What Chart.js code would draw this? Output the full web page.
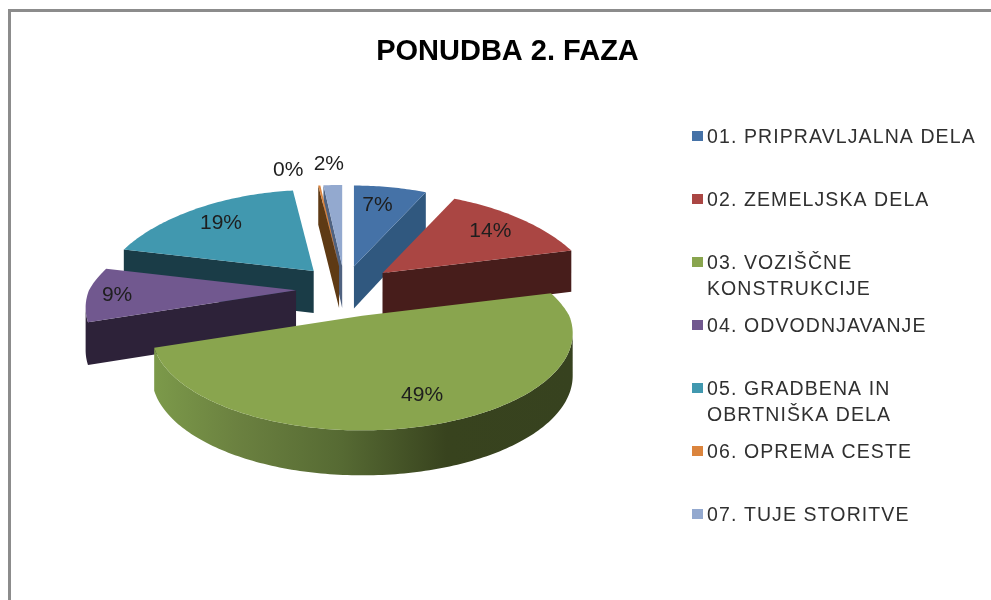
<!DOCTYPE html>
<html>
<head>
<meta charset="utf-8">
<style>
html,body{margin:0;padding:0;background:#fff;width:991px;height:600px;overflow:hidden}
#wrap{position:relative;width:991px;height:600px}
#frame{position:absolute;left:8px;top:9px;right:0;bottom:0;border-left:3px solid #8c8c8c;border-top:3px solid #8c8c8c}
canvas{position:absolute;left:0;top:0}
</style>
</head>
<body>
<div id="wrap"><div id="frame"></div><canvas id="c" width="991" height="600"></canvas></div>
<script src="https://cdn.jsdelivr.net/npm/chart.js@4/dist/chart.umd.js"></script>
<script>
const chartTitle = "PONUDBA 2. FAZA";
const categories = ["01. PRIPRAVLJALNA DELA","02. ZEMELJSKA DELA","03. VOZIŠČNE KONSTRUKCIJE","04. ODVODNJAVANJE","05. GRADBENA IN OBRTNIŠKA DELA","06. OPREMA CESTE","07. TUJE STORITVE"];
const shares = [7.0,14.0,48.8,9.0,19.2,0.2,1.8];
const topColors = ["#4572a7","#aa4643","#89a54e","#71588f","#4198af","#db843d","#93a9cf"];
const wallColors = ["#30587f","#471d1b",null,"#2d2239","#1a3c47","#5e3a14","#4f6280"];
const sliceNudge = [[-2,0],[-1,-3],[3,-5],[1,-5],[2,-2],[0,0],[0,0]];
const labelRadius = [0.75,0.75,0.75,0.85,0.75,1,1];
const labelNudge = [[-5,0],[1,0],[9,2],[-2,2],[-2,0],[-31,-15],[-4,-21]];

const PERSP_X_FAR = 0.25, PERSP_X_NEAR = 0.18, PERSP_Y_FAR = 0.16, PERSP_Y_NEAR = 0.18, SQUASH = 94/207, OFFSET_Y = 0.56, WALL = 42;

function place(arc, angle, r){
  const p = arc.getProps(["x","y","startAngle","endAngle","outerRadius"]);
  const R = p.outerRadius, mid = (p.startAngle + p.endAngle)/2 + Math.PI/2;
  const i = arc.$context ? arc.$context.dataIndex : 0;
  const o = arc.options.offset;
  const ax = p.x + o*Math.sin(mid) + sliceNudge[i][0];
  const ay = p.y - o*OFFSET_Y*Math.cos(mid) + sliceNudge[i][1];
  const th = angle + Math.PI/2;
  const u = r*Math.sin(th), v = -r*Math.cos(th);
  const px = v > 0 ? PERSP_X_NEAR : PERSP_X_FAR;
  const py = v > 0 ? PERSP_Y_NEAR : PERSP_Y_FAR;
  return {
    x: ax + R*u/(1 - px*v),
    y: ay + R*SQUASH*v/(1 - py*v),
    h: WALL + 3*v
  };
}
function outline(arc){
  const p = arc.getProps(["startAngle","endAngle"]);
  const pts = [place(arc, p.startAngle, 0)];
  const n = Math.max(2, Math.ceil((p.endAngle - p.startAngle)/(Math.PI/180)));
  for(let k=0;k<=n;k++) pts.push(place(arc, p.startAngle + (p.endAngle-p.startAngle)*k/n, 1));
  return pts;
}
function fillRun(ctx, run){
  ctx.beginPath();
  run.forEach((q,k)=> k ? ctx.lineTo(q.x,q.y) : ctx.moveTo(q.x,q.y));
  for(let k=run.length-1;k>=0;k--) ctx.lineTo(run[k].x,run[k].y+run[k].h);
  ctx.closePath(); ctx.fill();
}
Chart.ArcElement.prototype.draw = function(ctx){
  const i = this.$context.dataIndex, pts = outline(this);
  ctx.save();
  let wall = wallColors[i];
  if(!wall){
    wall = ctx.createLinearGradient(153,0,572,0);
    wall.addColorStop(0,"#7c9a4a");
    wall.addColorStop(0.2,"#6b8140");
    wall.addColorStop(0.45,"#566a33");
    wall.addColorStop(0.7,"#38431e");
    wall.addColorStop(1,"#37421f");
  }
  ctx.fillStyle = wall;
  let run = [];
  for(let k=0;k<pts.length;k++){
    const a = pts[k], b = pts[(k+1)%pts.length];
    if(b.x - a.x < 0){
      if(!run.length) run.push(a);
      run.push(b);
    } else if(run.length){
      fillRun(ctx,run); run = [];
    }
  }
  if(run.length) fillRun(ctx,run);
  ctx.fillStyle = this.options.backgroundColor;
  ctx.beginPath();
  pts.forEach((q,k)=> k ? ctx.lineTo(q.x,q.y) : ctx.moveTo(q.x,q.y));
  ctx.closePath(); ctx.fill();
  ctx.restore();
};
Chart.PieController.prototype.draw = function(){
  const ctx = this.chart.ctx, area = this.chart.chartArea;
  const depth = a => { const p = a.getProps(["startAngle","endAngle"]); return Math.cos((p.startAngle+p.endAngle)/2 + Math.PI/2); };
  this.getMeta().data.slice().sort((a,b)=>depth(b)-depth(a)).forEach(a=>a.draw(ctx,area));
};

const pieLabels = {
  id:"pieLabels",
  afterDatasetsDraw(chart){
    const ctx = chart.ctx, meta = chart.getDatasetMeta(0), total = shares.reduce((s,x)=>s+x,0);
    ctx.save();
    ctx.font = "21px 'Liberation Sans'"; ctx.fillStyle = "#1e1e1e";
    ctx.textAlign = "center"; ctx.textBaseline = "middle";
    meta.data.forEach((arc,i)=>{
      const p = arc.getProps(["startAngle","endAngle"]);
      const q = place(arc,(p.startAngle+p.endAngle)/2,labelRadius[i]);
      ctx.fillText(Math.round(shares[i]/total*100)+"%", q.x+labelNudge[i][0], q.y+labelNudge[i][1]);
    });
    ctx.restore();
  }
};
const sideLegend = {
  id:"sideLegend",
  afterDraw(chart){
    const ctx = chart.ctx;
    ctx.save();
    ctx.font = "19.5px 'Liberation Sans'"; ctx.letterSpacing = "1.1px";
    ctx.textBaseline = "alphabetic"; ctx.textAlign = "left";
    categories.forEach((name,i)=>{
      const base = 143 + i*63;
      ctx.fillStyle = topColors[i];
      ctx.fillRect(692, base-12, 11, 10);
      ctx.fillStyle = "#303030";
      let line = "", y = base;
      name.split(" ").forEach(w=>{
        const t = line ? line+" "+w : w;
        if(ctx.measureText(t).width > 280){ ctx.fillText(line,707,y); y += 26; line = w; }
        else line = t;
      });
      ctx.fillText(line,707,y);
    });
    ctx.restore();
  }
};
const titleShift = { id:"titleShift", afterLayout(chart){ chart.titleBlock.left = 24; chart.titleBlock.right = 991; } };

new Chart(document.getElementById("c"),{
  type:"pie",
  data:{labels:categories,datasets:[{data:shares,backgroundColor:topColors,borderWidth:0,offset:50,radius:207}]},
  options:{
    responsive:false,animation:false,events:[],
    layout:{padding:{left:0,right:301,top:0,bottom:82}},
    plugins:{
      legend:{display:false},tooltip:{enabled:false},
      title:{display:true,text:chartTitle,color:"#000",font:{family:"'Liberation Sans'",size:29,weight:"bold"},padding:{top:35,bottom:0}}
    }
  },
  plugins:[pieLabels,sideLegend,titleShift]
});
</script>
</body>
</html>
